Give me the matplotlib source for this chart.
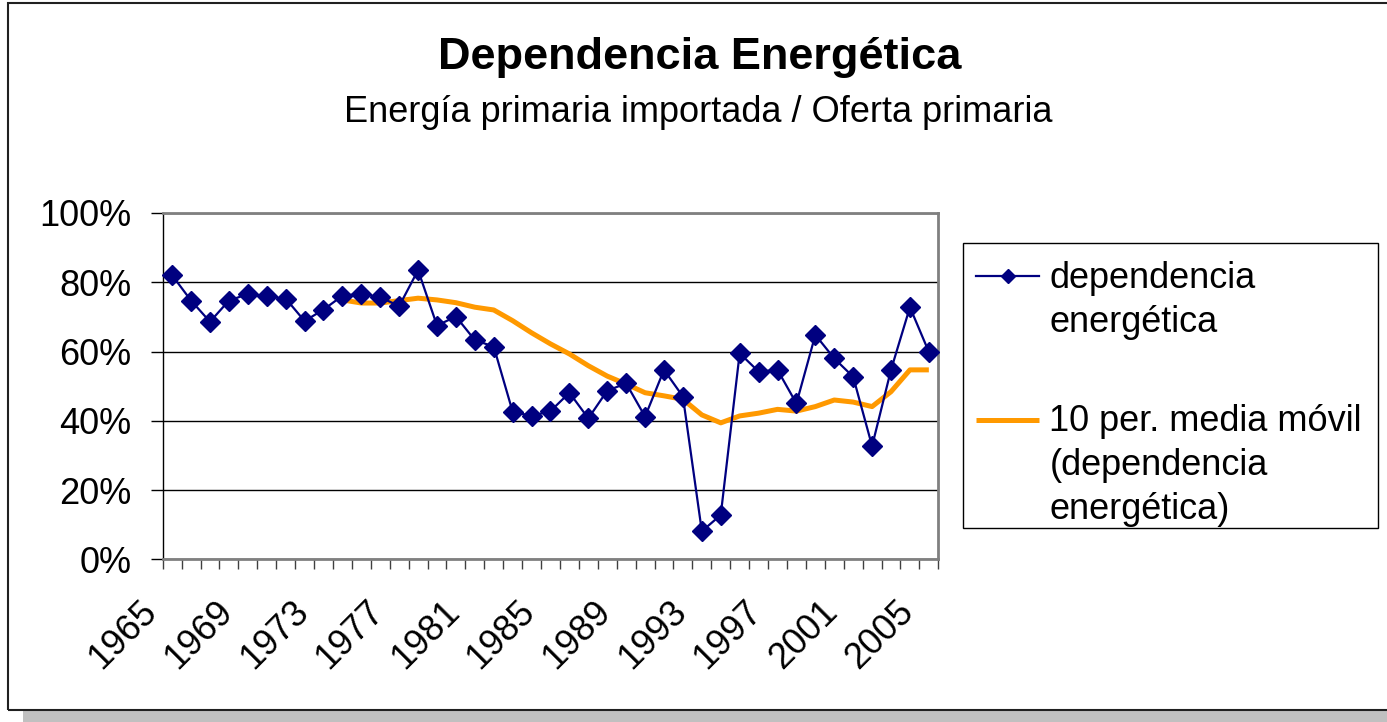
import numpy as np
import matplotlib
matplotlib.use("Agg")
import matplotlib.pyplot as plt
from matplotlib.ticker import PercentFormatter
from matplotlib.transforms import ScaledTranslation
from matplotlib.patches import Rectangle

plt.rcParams['font.family'] = ['Liberation Sans', 'DejaVu Sans']

# ---------------- data ----------------
years = list(range(1965, 2006))
dependencia = [82.0, 74.7, 68.6, 74.7, 76.6, 75.9, 75.3, 68.8, 72.1, 76.1,
               76.7, 75.7, 73.1, 83.5, 67.5, 70.1, 63.3, 61.4, 42.6, 41.4,
               42.8, 48.1, 40.7, 48.7, 50.8, 41.2, 54.7, 47.0, 8.1, 12.8,
               59.5, 54.2, 54.7, 45.0, 64.8, 58.0, 52.7, 32.7, 54.7, 72.8,
               59.9]
media_movil = [np.nan] * 9 + [74.9, 74.0, 74.0, 74.7, 75.4, 74.9, 74.1, 72.8,
                              72.0, 68.9, 65.4, 62.2, 59.3, 55.9, 52.9, 50.6,
                              48.1, 47.2, 46.2, 41.7, 39.4, 41.4, 42.2, 43.3,
                              42.8, 44.1, 46.0, 45.4, 44.1, 48.4, 54.7, 54.7]
label_years = list(range(1965, 2006, 4))
y_ticks = [0, 20, 40, 60, 80, 100]

title = "Dependencia Energética"
subtitle = "Energía primaria importada / Oferta primaria"
serie1 = "dependencia\nenergética"
serie2 = "10 per. media móvil\n(dependencia\nenergética)"

# ---------------- layout ----------------
W, H = 1387, 722
fig = plt.figure(figsize=(W / 100, H / 100), dpi=100)
fig.patch.set_facecolor('white')


def fx(px):
    return px / W


def fy(py):
    return 1 - py / H


# chart frame with shadow
fig.patches.append(Rectangle((fx(23), 0), 1 - fx(23), 11 / H, transform=fig.transFigure,
                             facecolor='#c0c0c0', edgecolor='none', zorder=-2))
fig.patches.append(Rectangle((fx(8), fy(710)), fx(1420) - fx(8), (710 - 3) / H,
                             transform=fig.transFigure, fill=False,
                             edgecolor='#202020', lw=1.5, zorder=1))
# legend frame (drawn beneath the axes so the legend entries sit on top)
fig.patches.append(Rectangle((fx(963), fy(528)), fx(1378) - fx(963), (528 - 243) / H,
                             transform=fig.transFigure, facecolor='white',
                             edgecolor='black', lw=1.0, zorder=-1))

fig.text(fx(700), fy(58), title, ha='center', va='center', fontsize=32.5,
         fontweight='bold')
fig.text(fx(698.5), fy(112), subtitle, ha='center', va='center', fontsize=26)

L, R, T, B = 162.7, 938.3, 213, 559.3
ax = fig.add_axes([fx(L), fy(B), (R - L) / W, (B - T) / H])

x = np.arange(len(years))
ax.plot(x, media_movil, color='#FF9900', lw=3.6, label=serie2, zorder=3,
        solid_capstyle='butt')
ax.plot(x, dependencia, color='#000080', lw=1.6, marker='D', ms=10,
        label=serie1, zorder=4, clip_on=False)

ax.set_xlim(-0.5, len(years) - 0.5)
ax.set_ylim(0, 100)
ax.set_yticks(y_ticks)
ax.yaxis.set_major_formatter(PercentFormatter(decimals=0))
ax.yaxis.grid(True, color='black', lw=1)
ax.set_axisbelow(True)

for s in ['top', 'right', 'bottom']:
    ax.spines[s].set_color('#808080')
    ax.spines[s].set_linewidth(2)
ax.spines['left'].set_color('black')
ax.spines['left'].set_linewidth(1)

ax.tick_params(axis='y', direction='out', length=8.6, width=1, color='black',
               labelsize=26, pad=14)

pos = [years.index(y) for y in label_years]
ax.set_xticks(pos)
ax.set_xticklabels([str(y) for y in label_years])
ax.set_xticks(np.arange(-0.5, len(years), 1), minor=True)
ax.tick_params(axis='x', which='major', length=0, labelsize=26, pad=0)
ax.tick_params(axis='x', which='minor', direction='out', length=7.5, width=1,
               color='#404040')
off = ScaledTranslation(-0.33, -0.35, fig.dpi_scale_trans)
for lbl in ax.get_xticklabels():
    lbl.set_rotation(45)
    lbl.set_ha('right')
    lbl.set_va('top')
    lbl.set_rotation_mode('anchor')
    lbl.set_transform(lbl.get_transform() + off)

handles, labels = ax.get_legend_handles_labels()
order = [1, 0]
leg = ax.legend([handles[i] for i in order], [labels[i] for i in order],
                loc='upper left', bbox_to_anchor=(fx(963), fy(248)),
                bbox_transform=fig.transFigure, fontsize=26, frameon=False,
                borderpad=0.36, borderaxespad=0, handlelength=1.75,
                handletextpad=0.28, labelspacing=1.78, handleheight=1.2,
                markerscale=0.7)
for t in leg.get_texts():
    t.set_linespacing(1.33)
for col in leg._legend_handle_box.get_children():
    for row in col.get_children():
        row.align = 'top'

fig.savefig('out.png', dpi=100)
